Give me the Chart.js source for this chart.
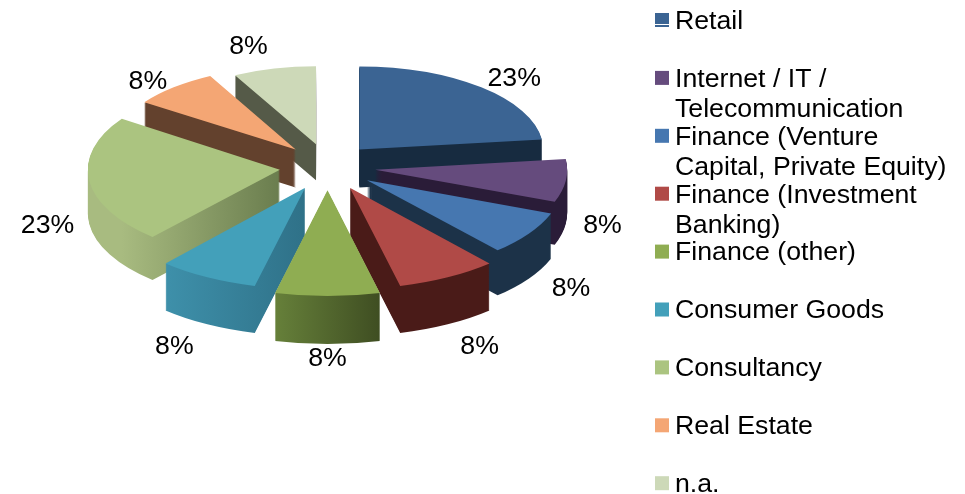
<!DOCTYPE html>
<html><head><meta charset="utf-8">
<style>html,body{margin:0;padding:0;background:#fff}canvas{display:block}</style>
<script src="https://cdn.jsdelivr.net/npm/chart.js@4"></script>
</head><body><canvas id="c" width="965" height="494"></canvas>
<script>
const categories = ["Retail","Internet / IT / Telecommunication","Finance (Venture Capital, Private Equity)","Finance (Investment Banking)","Finance (other)","Consumer Goods","Consultancy","Real Estate","n.a."];
const values = [3,1,1,1,1,1,3,1,1];
const topColors = ["#3B6493","#654B7D","#4677B0","#B04A47","#8FAD52","#43A0BA","#ABC480","#F4A674","#CDD9B8"];
const sideLeft = ["#172B40","#2A1C38","#1C3248","#4A1B18","#66803A","#3E90AA","#A8BB80","#63412D","#555A48"];
const sideRight = ["#172B40","#2A1C38","#1C3248","#4A1B18","#3F4E22","#2F7188","#6A7D4E","#63412D","#555A48"];
const legendLines = [["Retail"],["Internet / IT /","Telecommunication"],["Finance (Venture","Capital, Private Equity)"],["Finance (Investment","Banking)"],["Finance (other)"],["Consumer Goods"],["Consultancy"],["Real Estate"],["n.a."]];
const labelNudge = [[1,-4],[-3,24],[13,4],[22,3],[0,-6],[-23,3],[-2,24],[6,-1],[-12,-7]];

const FONT = '"Liberation Sans", Arial, sans-serif';
const CX = 327.5, CY = 167, EXPLODE = 48, APEX_K = 0.486, RADIUS = 192;

const pie3d = {
  id: 'pie3d',
  beforeDatasetDraw() { return false; },
  afterDatasetsDraw(chart) {
    const ctx = chart.ctx;
    const arcs = chart.getDatasetMeta(0).data.map((arc, i) => {
      const mid = (arc.startAngle + arc.endAngle) / 2;
      return {arc, i, mid, ax: CX + EXPLODE * Math.cos(mid), ay: CY + EXPLODE * APEX_K * Math.sin(mid)};
    }).sort((a, b) => a.ay - b.ay);
    for (const {arc, i, mid, ax, ay} of arcs) {
      const sy = Math.sin(mid);
      const s = 1 + (sy > 0 ? 0.14 : 0.1) * sy * sy * sy;
      const k = 0.465 + 0.018 * sy;
      const depth = Math.round(42 + 6 * sy);
      const place = dy => {
        ctx.translate(ax, ay + dy);
        ctx.scale(s, s * k);
        ctx.translate(-arc.x, -arc.y);
      };
      const xs = [0, Math.cos(arc.startAngle), Math.cos(arc.endAngle)].map(v => v * arc.outerRadius);
      const grad = ctx.createLinearGradient(arc.x + Math.min(...xs), 0, arc.x + Math.max(...xs), 0);
      grad.addColorStop(0, sideLeft[i]);
      grad.addColorStop(1, sideRight[i]);
      const opts = arc.options;
      arc.options = Object.assign({}, opts, {backgroundColor: grad});
      for (let d = depth; d > 0; d--) {
        ctx.save(); place(d); arc.draw(ctx); ctx.restore();
      }
      arc.options = opts;
      ctx.save(); place(0); arc.draw(ctx); ctx.restore();
    }
  },
  afterDraw(chart) {
    const ctx = chart.ctx;
    ctx.save();
    ctx.font = '26.7px ' + FONT;
    ctx.fillStyle = '#000';
    ctx.textBaseline = 'middle';
    const total = values.reduce((a, b) => a + b, 0);
    ctx.textAlign = 'center';
    chart.getDatasetMeta(0).data.forEach((arc, i) => {
      const mid = (arc.startAngle + arc.endAngle) / 2;
      const sy = Math.sin(mid);
      const x = CX + 280 * Math.cos(mid) + labelNudge[i][0];
      const y = 179.5 + (sy < 0 ? 130 : 185) * sy + labelNudge[i][1];
      ctx.fillText(Math.round(values[i] / total * 100) + '%', x, y);
    });
    ctx.textAlign = 'left';
    legendLines.forEach((lines, i) => {
      const y = 20 + 57.9 * i;
      ctx.fillStyle = topColors[i];
      ctx.fillRect(655, y - 7, 14, 14);
      if (i === 0) { ctx.fillStyle = '#fff'; ctx.fillRect(655, y + 4, 14, 1); }
      ctx.fillStyle = '#000';
      lines.forEach((t, j) => ctx.fillText(t, 675, y + 1.5 + j * 30));
    });
    ctx.restore();
  }
};

new Chart(document.getElementById('c'), {
  type: 'pie',
  data: {labels: categories, datasets: [{data: values, backgroundColor: topColors, borderWidth: 0}]},
  options: {
    responsive: false, animation: false, radius: RADIUS,
    events: [],
    plugins: {legend: {display: false}, tooltip: {enabled: false}}
  },
  plugins: [pie3d]
});
</script></body></html>
